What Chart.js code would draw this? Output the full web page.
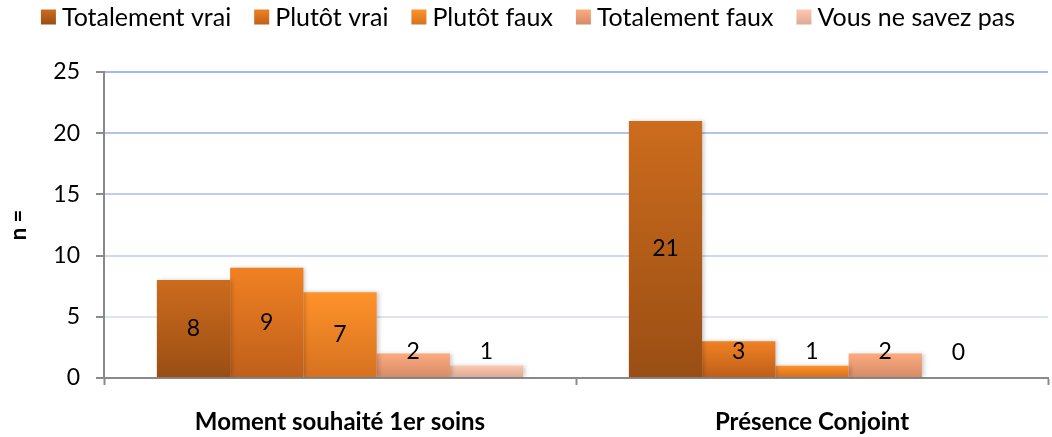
<!DOCTYPE html>
<html>
<head>
<meta charset="utf-8">
<script src="https://cdn.jsdelivr.net/npm/chart.js@4.4.0/dist/chart.umd.min.js"></script>
<style>
  html, body { margin: 0; padding: 0; background: #fff; }
  #wrap { width: 1052px; height: 437px; }
</style>
</head>
<body>
<div id="wrap"><canvas id="chart" width="1052" height="437"></canvas></div>
<script>
// chart data
const categories = ['Moment souhaité 1er soins', 'Présence Conjoint'];
const seriesNames = ['Totalement vrai', 'Plutôt vrai', 'Plutôt faux', 'Totalement faux', 'Vous ne savez pas'];
const totalementVrai = [8, 21];
const plutotVrai = [9, 3];
const plutotFaux = [7, 1];
const totalementFaux = [2, 2];
const vousNeSavezPas = [1, 0];
const yTicks = [0, 5, 10, 15, 20, 25];

// colours: [top, bottom] of each bar gradient
const gradients = [
    ['#cc6c1d', '#9a4e14'],
    ['#f08123', '#bf5f1a'],
    ['#ff922b', '#d6711f'],
    ['#fcab7d', '#d68b69'],
    ['#fdc8ab', '#dcab97']
];
const solidColors = ['#b35d19', '#d8701f', '#ea8126', '#e99a73', '#ebb8a1'];
const gridColors = ['#dce5f4', '#ccdaef', '#bccfeb', '#afc4e7', '#a2bbe4'];

const seriesValues = [totalementVrai, plutotVrai, plutotFaux, totalementFaux, vousNeSavezPas];

const FONT = 'Lato, "Open Sans", sans-serif';
Chart.defaults.font.family = FONT;
Chart.defaults.color = '#000';

// paint every bar with its own vertical gradient, plus a soft shadow
const barGradientPlugin = {
    id: 'barGradient',
    beforeDatasetDraw(chart, args) {
        const ctx = chart.ctx;
        const colors = gradients[args.index];
        args.meta.data.forEach(bar => {
            const top = Math.min(bar.y, bar.base);
            const bottom = Math.max(bar.y, bar.base);
            if (bottom - top < 0.5) return;
            const g = ctx.createLinearGradient(0, top, 0, bottom);
            g.addColorStop(0, colors[0]);
            g.addColorStop(1, colors[1]);
            bar.options.backgroundColor = g;
        });
        ctx.save();
        ctx.shadowColor = 'rgba(0,0,0,0.2)';
        ctx.shadowBlur = 4;
        ctx.shadowOffsetX = 2;
        ctx.shadowOffsetY = 0;
    },
    afterDatasetDraw(chart) {
        chart.ctx.restore();
    }
};

// value labels, centred in the bar but never lower than near the axis
const valueLabelPlugin = {
    id: 'valueLabels',
    afterDatasetsDraw(chart) {
        const ctx = chart.ctx;
        ctx.save();
        ctx.font = '23px ' + FONT;
        ctx.fillStyle = '#000';
        ctx.textAlign = 'center';
        ctx.textBaseline = 'middle';
        chart.data.datasets.forEach((ds, i) => {
            const meta = chart.getDatasetMeta(i);
            meta.data.forEach((bar, j) => {
                const mid = (bar.y + bar.base) / 2;
                const y = Math.min(mid, bar.base - 25);
                ctx.fillText(String(ds.data[j]), bar.x, y);
            });
        });
        ctx.restore();
    }
};

// legend row across the top, Excel style (small gradient squares)
const topLegendPlugin = {
    id: 'topLegend',
    afterDraw(chart) {
        const ctx = chart.ctx;
        const box = 15, gap = 6, itemGap = 23, cy = 17;
        ctx.save();
        ctx.font = '25px ' + FONT;
        ctx.textBaseline = 'middle';
        ctx.textAlign = 'left';
        const widths = seriesNames.map(n => ctx.measureText(n).width);
        const total = widths.reduce((a, w) => a + box + gap + w, 0) + itemGap * (seriesNames.length - 1);
        let x = 528 - total / 2;
        seriesNames.forEach((name, i) => {
            const g = ctx.createLinearGradient(0, cy - box / 2, 0, cy + box / 2);
            g.addColorStop(0, gradients[i][0]);
            g.addColorStop(1, gradients[i][1]);
            ctx.fillStyle = g;
            ctx.fillRect(x, cy - box / 2, box, box);
            ctx.fillStyle = '#000';
            ctx.fillText(name, x + box + gap, cy + 1);
            x += box + gap + widths[i] + itemGap;
        });
        ctx.restore();
    }
};

new Chart(document.getElementById('chart'), {
    type: 'bar',
    data: {
        labels: categories,
        datasets: seriesNames.map((name, i) => ({
            label: name,
            data: seriesValues[i],
            // scriptable so each bar gets its own options object
            backgroundColor: () => solidColors[i],
            borderWidth: 0,
            categoryPercentage: 0.776,
            barPercentage: 1
        }))
    },
    options: {
        responsive: false,
        animation: false,
        layout: { padding: { top: 72, left: 6, right: 4, bottom: 0 } },
        plugins: {
            legend: { display: false },
            tooltip: { enabled: false }
        },
        scales: {
            x: {
                offset: true,
                grid: {
                    offset: true,
                    drawOnChartArea: false,
                    drawTicks: true,
                    tickLength: 7,
                    tickColor: '#8a8a8a',
                    tickWidth: 2
                },
                border: { color: '#8a8a8a', width: 2 },
                ticks: {
                    padding: 23,
                    font: { size: 24, weight: 'bold' },
                    color: '#000'
                },
                afterFit(scale) { scale.height = 59; }
            },
            y: {
                min: 0,
                max: 25,
                afterBuildTicks(scale) { scale.ticks = yTicks.map(v => ({ value: v })); },
                grid: {
                    color: ctx => ctx.index === 0 ? 'rgba(0,0,0,0)' : gridColors[ctx.index - 1],
                    lineWidth: 2,
                    drawTicks: true,
                    tickLength: 8,
                    tickColor: '#8a8a8a',
                    tickWidth: 2
                },
                border: { color: '#8a8a8a', width: 2 },
                ticks: {
                    padding: 16,
                    font: { size: 23 },
                    color: '#000'
                },
                title: {
                    display: true,
                    text: 'n =',
                    font: { size: 22, weight: 'bold' },
                    color: '#000',
                    padding: 0
                },
                afterFit(scale) { scale.width = 98; }
            }
        }
    },
    plugins: [barGradientPlugin, valueLabelPlugin, topLegendPlugin]
});
</script>
</body>
</html>
